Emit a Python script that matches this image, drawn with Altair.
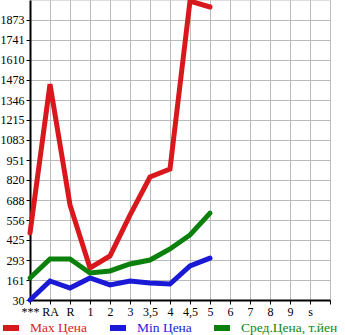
import altair as alt
import pandas as pd

categories = ["***", "RA", "R", "1", "2", "3", "3,5", "4", "4,5", "5", "6", "7", "8", "9", "s", " "]
filled = ["***", "RA", "R", "1", "2", "3", "3,5", "4", "4,5", "5"]
max_vals = [471, 1451, 655, 241, 320, 589, 839, 892, 1997, 1958]
min_vals = [30, 155, 109, 175, 129, 155, 142, 135, 254, 306]
avg_vals = [175, 300, 300, 208, 221, 267, 293, 366, 458, 602]
series_names = ["Max Цена", "Min Цена", "Сред.Цена, т.йен"]
series_colors = ["#d9181e", "#1a1ad6", "#0c800c"]
y_ticks = [30, 161, 293, 425, 556, 688, 820, 951, 1083, 1215, 1346, 1478, 1610, 1741, 1873]
y_domain = [30, 2004]

rows = []
for name, vals in zip(series_names, [max_vals, min_vals, avg_vals]):
    for c, v in zip(filled, vals):
        rows.append({"cat": c, "val": v, "series": name})
df = pd.DataFrame(rows)

label_expr = ("datum.value == 'Max Цена' ? '#dd2222' : "
              "(datum.value == 'Min Цена' ? '#2222dd' : '#118811')")

chart = alt.Chart(df).mark_line(strokeWidth=5, strokeCap="round").encode(
    x=alt.X("cat:N", scale=alt.Scale(type="point", domain=categories, padding=0),
            axis=alt.Axis(title=None, labelAngle=0, labelFont="Liberation Serif",
                          labelFontSize=12, labelColor="#000", domainColor="#000",
                          domainWidth=2, tickColor="#000", tickSize=4,
                          grid=True, gridColor="#bbbbbb", gridWidth=1, labelPadding=2)),
    y=alt.Y("val:Q", scale=alt.Scale(domain=y_domain, nice=False, zero=False),
            axis=alt.Axis(title=None, values=y_ticks, format="d", labelFont="Liberation Serif",
                          labelFontSize=12, labelColor="#000", domainColor="#000",
                          domainWidth=2, tickColor="#000", tickSize=4,
                          grid=True, gridColor="#bbbbbb", gridWidth=1, labelPadding=2,
                          labelOverlap=False)),
    color=alt.Color("series:N", scale=alt.Scale(domain=series_names, range=series_colors),
                    sort=series_names,
                    legend=alt.Legend(orient="none", legendX=-30, legendY=317,
                                      direction="horizontal", title=None,
                                      symbolType="stroke", symbolSize=256,
                                      symbolStrokeWidth=6, labelFont="Liberation Serif",
                                      labelFontSize=13.5, labelColor={"expr": label_expr},
                                      columnPadding=10, labelOffset=8, padding=0)),
).properties(
    width=300, height=300,
    autosize=alt.AutoSizeParams(type="none"),
    padding={"left": 30, "top": 0, "right": 15, "bottom": 35},
).configure_view(fill="#f7f7f7", stroke=None).configure(background="white")

chart.save("out.html", embed_options={"renderer": "svg", "actions": False})
